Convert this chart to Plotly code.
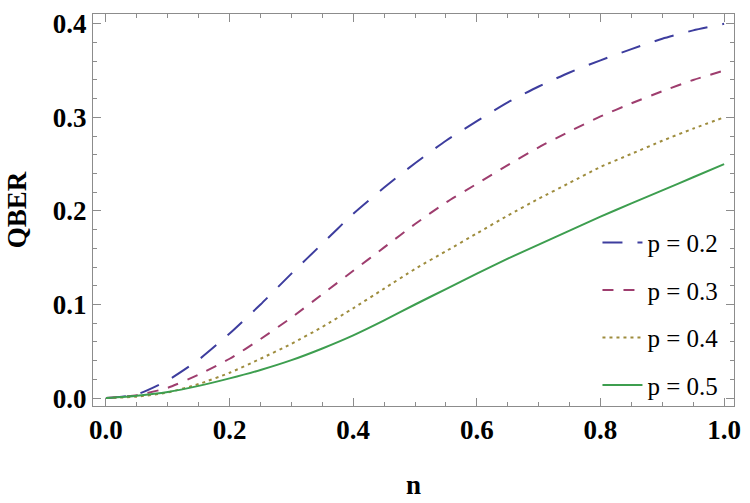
import plotly.graph_objects as go

n_vals = [0.0, 0.05, 0.1, 0.15, 0.2, 0.25, 0.3, 0.35, 0.4, 0.45, 0.5,
          0.55, 0.6, 0.65, 0.7, 0.75, 0.8, 0.85, 0.9, 0.95, 1.0]
qber_p02 = [0.0, 0.004, 0.019, 0.041, 0.069, 0.100, 0.133, 0.165, 0.197, 0.225, 0.251,
            0.275, 0.296, 0.316, 0.333, 0.348, 0.361, 0.373, 0.384, 0.393, 0.400]
qber_p03 = [0.0, 0.003, 0.011, 0.025, 0.042, 0.063, 0.086, 0.111, 0.136, 0.161, 0.186,
            0.209, 0.229, 0.249, 0.268, 0.285, 0.301, 0.315, 0.328, 0.340, 0.350]
qber_p04 = [0.0, 0.0015, 0.006, 0.015, 0.027, 0.042, 0.058, 0.076, 0.096, 0.117, 0.138,
            0.157, 0.176, 0.195, 0.213, 0.230, 0.247, 0.261, 0.275, 0.288, 0.300]
qber_p05 = [0.0, 0.0025, 0.0065, 0.013, 0.021, 0.030, 0.0405, 0.053, 0.067, 0.083, 0.100,
            0.1165, 0.133, 0.149, 0.164, 0.179, 0.194, 0.208, 0.222, 0.236, 0.250]
labels = ["p = 0.2", "p = 0.3", "p = 0.4", "p = 0.5"]
colors = ["#3d3d9e", "#9e3d6e", "#9e8c3d", "#3d9e4f"]
dashes = ["20px,15px", "11px,10px", "3px,4px", "solid"]
series = [qber_p02, qber_p03, qber_p04, qber_p05]

fig = go.Figure()
for lab, col, dsh, ys in zip(labels, colors, dashes, series):
    fig.add_trace(go.Scatter(
        x=n_vals, y=ys, mode="lines", name=lab, legendgroup=lab,
        line=dict(color=col, width=2, dash=dsh, shape="spline", smoothing=0.6),
    ))

serif = "Liberation Serif, Times New Roman, serif"
axis_common = dict(
    showline=True, linecolor="#8c8c8c", linewidth=1, mirror="allticks",
    ticks="inside", tickcolor="#8c8c8c", ticklen=8, tickwidth=1,
    showgrid=False, zeroline=False,
    tickfont=dict(family=serif, size=27, color="black", weight="bold"),
)
fig.update_xaxes(
    range=[-0.021, 1.016], tickvals=[0, 0.2, 0.4, 0.6, 0.8, 1.0],
    ticktext=["0.0", "0.2", "0.4", "0.6", "0.8", "1.0"],
    minor=dict(ticks="inside", dtick=0.05, tick0=0, ticklen=4, tickcolor="#8c8c8c"),
    title=dict(text="n", font=dict(family=serif, size=27, color="black", weight="bold"), standoff=30),
    **axis_common,
)
fig.update_yaxes(
    range=[-0.0085, 0.4105], tickvals=[0, 0.1, 0.2, 0.3, 0.4],
    ticktext=["0.0", "0.1", "0.2", "0.3", "0.4"],
    minor=dict(ticks="inside", dtick=0.02, tick0=0, ticklen=4, tickcolor="#8c8c8c"),
    title=dict(text="QBER", font=dict(family=serif, size=27, color="black", weight="bold"), standoff=18),
    **axis_common,
)
fig.update_layout(
    width=750, height=503,
    margin=dict(l=93, r=10, t=9, b=94),
    paper_bgcolor="white", plot_bgcolor="white",
    showlegend=True,
    legend=dict(
        x=0.787, y=0.475, xanchor="left", yanchor="top",
        bgcolor="rgba(255,255,255,0)", font=dict(family=serif, size=25, color="black"),
        tracegroupgap=12, itemwidth=40,
    ),
)
fig.write_html("out.html")
